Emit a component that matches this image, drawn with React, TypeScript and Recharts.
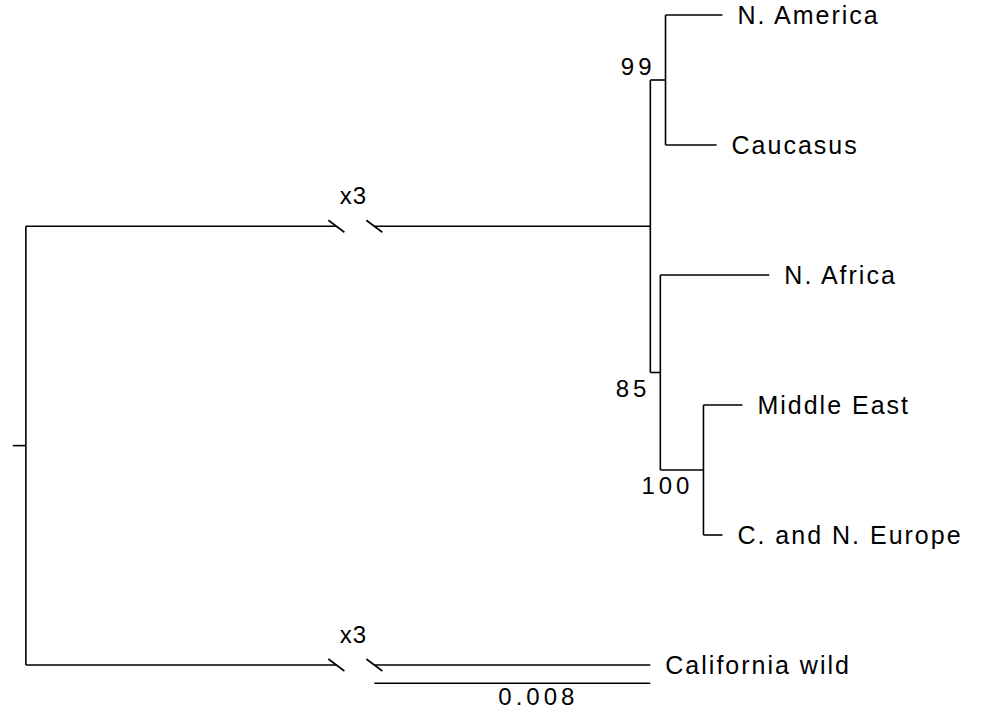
import { ComposedChart, ReferenceDot, ReferenceLine, Scatter, XAxis, YAxis } from 'recharts';

// leaf order, top to bottom
const TAXA = ['N. America', 'Caucasus', 'N. Africa', 'Middle East', 'C. and N. Europe', 'California wild'];

// tree: node id, parent id, branch length (subst./site, as drawn)
const NODE_IDS = ['root', 'ingroup', 'n99', 'N. America', 'Caucasus', 'n85', 'N. Africa', 'n100', 'Middle East', 'C. and N. Europe', 'California wild'];
const NODE_PARENTS = ['', 'root', 'ingroup', 'n99', 'n99', 'ingroup', 'n85', 'n85', 'n100', 'n100', 'root'];
const BRANCH_LENGTHS = [0, 0.0181, 0.00044, 0.00165, 0.00148, 0.00029, 0.00316, 0.00125, 0.00113, 0.00055, 0.0181];
const SUPPORT = [null, null, 99, null, null, 85, null, 100, null, null, null];

// branches drawn shortened (x3), with a gap in drawn units
const BROKEN = ['ingroup', 'California wild'];
const BREAK_GAP = [0.009, 0.0101];
const BREAK_LABEL = 'x3';
const SCALE_BAR = 0.008;
const ROOT_STUB = 0.00038;

const W = 982;
const H = 711;
const PX_PER_UNIT = 34500;
const X_MIN = -0.00075;
const X_DOMAIN = [X_MIN, X_MIN + W / PX_PER_UNIT];
const Y_DOMAIN = [-15 / 130, (H - 15) / 130];

const FONT = 'Liberation Sans, Arial, sans-serif';

type Seg = { x1: number; y1: number; x2: number; y2: number };

function layout() {
    const x: Record<string, number> = {};
    const y: Record<string, number> = {};
    const children: Record<string, string[]> = {};
    NODE_IDS.forEach((id, i) => {
        const p = NODE_PARENTS[i];
        x[id] = p ? x[p] + BRANCH_LENGTHS[i] : 0;
        if (p) (children[p] = children[p] || []).push(id);
    });
    const getY = (id: string): number => {
        if (y[id] !== undefined) return y[id];
        const kids = children[id];
        y[id] = kids ? (getY(kids[0]) + getY(kids[kids.length - 1])) / 2 : TAXA.indexOf(id);
        return y[id];
    };
    NODE_IDS.forEach(getY);

    const segs: Seg[] = [];
    NODE_IDS.forEach((id, i) => {
        const p = NODE_PARENTS[i];
        if (p) {
            if (BROKEN.includes(id)) {
                segs.push({ x1: x[p], y1: y[id], x2: BREAK_GAP[0], y2: y[id] });
                segs.push({ x1: BREAK_GAP[1], y1: y[id], x2: x[id], y2: y[id] });
            } else {
                segs.push({ x1: x[p], y1: y[id], x2: x[id], y2: y[id] });
            }
        }
        const kids = children[id];
        if (kids) {
            segs.push({ x1: x[id], y1: y[kids[0]], x2: x[id], y2: y[kids[kids.length - 1]] });
        }
    });
    segs.push({ x1: -ROOT_STUB, y1: y.root, x2: 0, y2: y.root });
    return { x, y, segs };
}

export default function App() {
    const { x, y, segs } = layout();

    const leaves = TAXA.map((name) => ({ x: x[name], y: y[name], name }));
    const support = NODE_IDS.map((id, i) => ({ x: x[id], y: y[id], value: SUPPORT[i], above: id === 'n99' })).filter(
        (d) => d.value !== null,
    );
    const breaks = BROKEN.map((id) => y[id]);
    const barEnd = x['California wild'];
    const barY = y['California wild'] + 0.14;

    return (
        <div style={{ position: 'absolute', left: 0, top: 0, background: '#fff' }}>
            <ComposedChart width={W} height={H} margin={{ top: 0, right: 0, bottom: 0, left: 0 }}>
                <XAxis type="number" dataKey="x" domain={X_DOMAIN} hide allowDataOverflow />
                <YAxis type="number" dataKey="y" domain={Y_DOMAIN} reversed hide allowDataOverflow />
                {segs.map((s, i) => (
                    <ReferenceLine
                        key={i}
                        segment={[
                            { x: s.x1, y: s.y1 },
                            { x: s.x2, y: s.y2 },
                        ]}
                        stroke="#000"
                        strokeWidth={1.6}
                        ifOverflow="visible"
                    />
                ))}
                {breaks.map((by, i) =>
                    BREAK_GAP.map((gx, j) => (
                        <ReferenceDot
                            key={`b${i}-${j}`}
                            x={gx}
                            y={by}
                            ifOverflow="visible"
                            shape={(p: any) => (
                                <line x1={p.cx - 8} y1={p.cy - 6} x2={p.cx + 8} y2={p.cy + 6} stroke="#000" strokeWidth={1.6} />
                            )}
                        />
                    )),
                )}
                {breaks.map((by, i) => (
                    <ReferenceDot
                        key={`x${i}`}
                        x={(BREAK_GAP[0] + BREAK_GAP[1]) / 2}
                        y={by}
                        ifOverflow="visible"
                        shape={(p: any) => (
                            <text x={p.cx - 2} y={p.cy - 22} textAnchor="middle" fontFamily={FONT} fontSize={24} letterSpacing={1}>
                                {BREAK_LABEL}
                            </text>
                        )}
                    />
                ))}
                <ReferenceLine
                    segment={[
                        { x: barEnd - SCALE_BAR, y: barY },
                        { x: barEnd, y: barY },
                    ]}
                    stroke="#000"
                    strokeWidth={1.6}
                    ifOverflow="visible"
                />
                <ReferenceDot
                    x={barEnd - SCALE_BAR / 2}
                    y={barY}
                    ifOverflow="visible"
                    shape={(p: any) => (
                        <text x={p.cx + 26} y={p.cy + 22} textAnchor="middle" fontFamily={FONT} fontSize={24} letterSpacing={4}>
                            {SCALE_BAR}
                        </text>
                    )}
                />
                <Scatter
                    data={leaves}
                    isAnimationActive={false}
                    shape={(p: any) => (
                        <text x={p.cx + 15} y={p.cy + 9} fontFamily={FONT} fontSize={25} letterSpacing={2} fill="#000">
                            {p.payload.name}
                        </text>
                    )}
                />
                <Scatter
                    data={support}
                    isAnimationActive={false}
                    shape={(p: any) => (
                        <text
                            x={p.cx - 10}
                            y={p.payload.above ? p.cy - 5 : p.cy + 24}
                            textAnchor="end"
                            fontFamily={FONT}
                            fontSize={24}
                            letterSpacing={4}
                            fill="#000"
                        >
                            {p.payload.value}
                        </text>
                    )}
                />
            </ComposedChart>
        </div>
    );
}
